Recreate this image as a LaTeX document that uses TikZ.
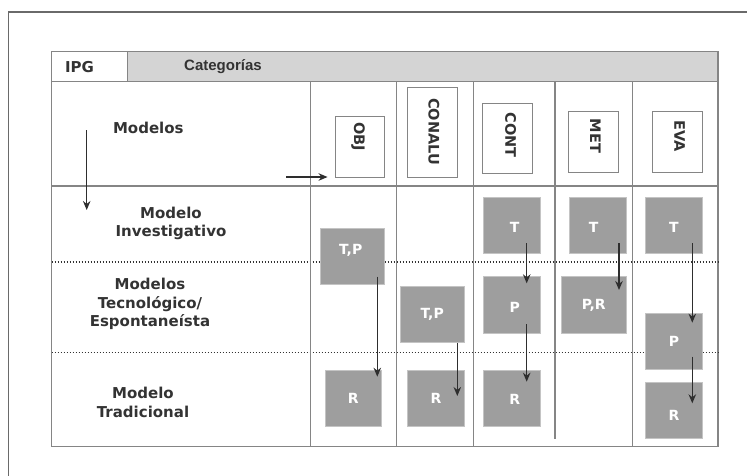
\documentclass[tikz,border=0pt]{standalone}
\usepackage{fontspec}
\setmainfont{DejaVu Sans}
\newfontfamily\arialf{Liberation Sans}
\usetikzlibrary{arrows.meta,calc}
\definecolor{frameC}{HTML}{6A6A6A}
\definecolor{gridC}{HTML}{858585}
\definecolor{hdrC}{HTML}{D4D4D4}
\definecolor{boxC}{HTML}{9E9E9E}
\definecolor{boxE}{HTML}{C4C4C4}
\definecolor{txtC}{HTML}{333333}
\definecolor{arrC}{HTML}{2E2E2E}
\tikzset{
  frameline/.style={draw=frameC,line width=1.3pt},
  gridline/.style={draw=gridC,line width=1.1pt},
  dotline/.style={draw=txtC,line width=1.3pt,dash pattern=on 1.3pt off 1.7pt},
  catbox/.style={draw=gridC,line width=1pt,fill=white,rectangle,inner sep=0pt,minimum width=50pt},
  cattext/.style={font=\fontsize{14.5}{16}\selectfont\bfseries,text=txtC,rotate=-90,inner sep=0pt},
  gbox/.style={fill=boxC,draw=boxE,line width=0.8pt,rectangle,inner sep=0pt,
    text=white,font=\fontsize{14}{16}\selectfont\bfseries},
  gtext/.style={text=white,font=\fontsize{14}{16}\selectfont\bfseries,inner sep=0pt},
  rowlabel/.style={align=center,text=txtC,font=\fontsize{15}{18.5}\selectfont\bfseries,inner sep=0pt},
  arr/.style={draw=arrC,line width=1.3pt,-{Stealth[length=9pt,width=7.5pt]}},
}
\begin{document}
\begin{tikzpicture}[x=1pt,y=-1pt]
\useasboundingbox (0,0) rectangle (747,475);
% outer frame
\coordinate (fa) at (8.5,476);
\coordinate (fb) at (8.5,12);
\coordinate (fc) at (748,12);
\draw[frameline] (fa) -- (fb) -- (fc);
% header
\fill[hdrC] (127.5,51.7) rectangle (718,81.7);
\draw[gridline] (51.5,51.7) rectangle (718,446.7);
\draw[gridline] (51.5,81.7) -- (718,81.7);
\draw[gridline] (127.5,51.7) -- (127.5,81.7);
\node[text=txtC,font=\fontsize{15}{16}\selectfont\bfseries,inner sep=0pt] (ipg) at (79.5,67.5) {IPG};
\node[text=txtC,font=\arialf\fontsize{15}{16}\selectfont\bfseries,inner sep=0pt] (cat) at (223,67) {Categorías};
% rows
\draw[gridline] (51.5,186) -- (718,186);
\draw[dotline] (51.5,262) -- (718,262);
\draw[dotline] (51.5,352.3) -- (718,352.3);
% columns
\draw[gridline] (310.5,81.7) -- (310.5,446.7);
\draw[gridline] (396.2,81.7) -- (396.2,446.7);
\draw[gridline] (473.2,81.7) -- (473.2,446.7);
\draw[gridline] (555,81.7) -- (555,438.5);
\draw[gridline] (632.6,81.7) -- (632.6,446.7);
% row labels
\node[rowlabel] (lmod) at (148.3,128) {Modelos};
\node[rowlabel] (linv) at (171,223.5) {Modelo\\Investigativo};
\node[rowlabel] (ltec) at (150,304) {Modelos\\Tecnológico/\\Espontaneísta};
\node[rowlabel] (ltra) at (143,402.5) {Modelo\\Tradicional};
% category boxes
\node[catbox,minimum width=49.3pt,minimum height=61.3pt,label={[shift={(-1.7,-10)},cattext]center:OBJ}] (cobj) at (359.7,146.7) {};
\node[catbox,minimum height=90.4pt,label={[shift={(1.7,-0.8)},cattext]center:CONALU}] (ccon) at (432.3,132.5) {};
\node[catbox,minimum height=70pt,label={[shift={(3,-3.3)},cattext]center:CONT}] (ccont) at (507.7,138.3) {};
\node[catbox,minimum width=49.6pt,minimum height=61pt,label={[shift={(2,-6.2)},cattext]center:MET}] (cmet) at (593.5,142.2) {};
\node[catbox,minimum width=49.6pt,minimum height=61pt,label={[shift={(2.2,-6.2)},cattext]center:EVA}] (ceva) at (677.5,142.2) {};
% model arrows
\coordinate (va) at (86.7,130);
\coordinate (vb) at (86.7,210);
\draw[arr] (va) -- (vb);
\coordinate (ha) at (286,177);
\draw[arr] (ha) -- ([xshift=-7pt]cobj.west |- ha);
% gray boxes
\node[gbox,minimum width=64.3pt,minimum height=56pt,label={[gtext,shift={(-1.5,-5.6)}]center:T,P}] (objtp) at (352.2,256.3) {};
\node[gbox,minimum width=56.7pt,minimum height=56.7pt] (objr) at (353.3,398.3) {R};
\node[gbox,minimum width=64.3pt,minimum height=56pt] (contp) at (432.2,314.7) {T,P};
\node[gbox,minimum width=56.6pt,minimum height=56.7pt] (conr) at (436,398.3) {R};
\node[gbox,minimum width=56.7pt,minimum height=56pt,label={[gtext,shift={(3,2)}]center:T}] (ctt) at (511.7,225.3) {};
\node[gbox,minimum width=56.7pt,minimum height=56.6pt,label={[gtext,shift={(3,2.7)}]center:P}] (ctp) at (511.7,305) {};
\node[gbox,minimum width=56.7pt,minimum height=56.7pt,label={[gtext,shift={(3,0.7)}]center:R}] (ctr) at (511.7,398.3) {};
\node[gbox,minimum width=56.7pt,minimum height=56pt,label={[gtext,shift={(-4,2)}]center:T}] (mtt) at (597.7,225.3) {};
\node[gbox,minimum width=64.3pt,minimum height=56.6pt] (mtpr) at (593.8,305) {P,R};
\node[gbox,minimum width=56.6pt,minimum height=56pt,label={[gtext,shift={(0,2)}]center:T}] (evt) at (674,225.3) {};
\node[gbox,minimum width=56.6pt,minimum height=56pt] (evp) at (674,341.3) {P};
\node[gbox,minimum width=56.6pt,minimum height=55.6pt,label={[gtext,shift={(0,4.5)}]center:R}] (evr) at (674,410.5) {};
% flow arrows
\draw[arr] ($(objtp.center)+(25.1,20.4)$) -- ($(objr.center)+(24,-21.6)$);
\draw[arr] ($(contp.center)+(25.1,28.6)$) -- ($(conr.center)+(21.3,-2.3)$);
\draw[arr] ($(ctt.center)+(15,18)$) -- ($(ctp.center)+(15,-21.7)$);
\draw[arr] ($(ctp.center)+(15,19)$) -- ($(ctr.center)+(15,-16.6)$);
\draw[arr] ($(mtt.center)+(21.3,18)$) -- ($(mtpr.center)+(25.2,-15)$);
\draw[arr] ($(evt.center)+(18.3,18)$) -- ($(evp.center)+(18.3,-18.6)$);
\draw[arr] ($(evp.center)+(18.3,15.4)$) -- ($(evr.center)+(18.3,-7.2)$);
\end{tikzpicture}
\end{document}
